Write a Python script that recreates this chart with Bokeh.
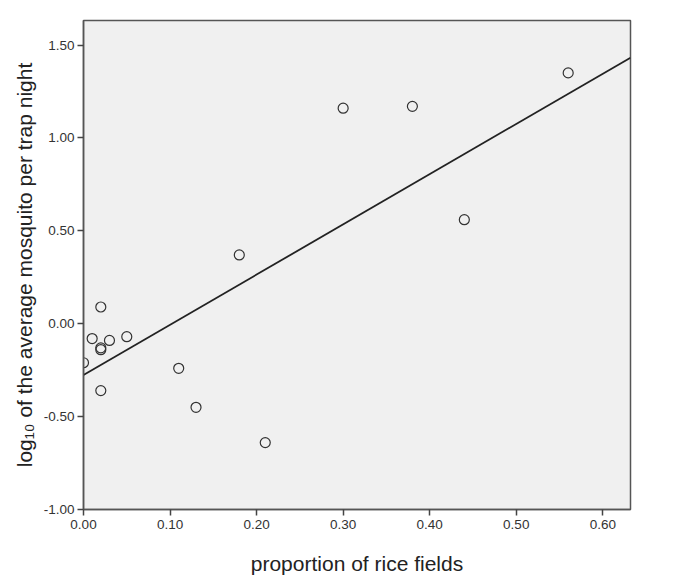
from bokeh.plotting import figure
from bokeh.models import Range1d, NumeralTickFormatter, FixedTicker
from bokeh.embed import file_html
from bokeh.resources import INLINE

# data
rice = [0.02, 0.01, 0.02, 0.02, 0.03, 0.05, 0.00, 0.02, 0.11, 0.13, 0.21, 0.18, 0.30, 0.38, 0.44, 0.56]
logmosq = [0.09, -0.08, -0.13, -0.14, -0.09, -0.07, -0.21, -0.36, -0.24, -0.45, -0.64, 0.37, 1.16, 1.17, 0.56, 1.35]
fit_x = [0.0, 0.632]
fit_y = [-0.276, 1.432]
x_ticks = [0.0, 0.1, 0.2, 0.3, 0.4, 0.5, 0.6]
y_ticks = [-1.0, -0.5, 0.0, 0.5, 1.0, 1.5]

p = figure(width=673, height=578, output_backend="svg", toolbar_location=None,
           x_range=Range1d(0, 0.632), y_range=Range1d(-1.0, 1.632),
           min_border_left=83, min_border_right=43, min_border_top=20, min_border_bottom=69)

p.background_fill_color = "#f0f0f0"
p.border_fill_color = "white"
p.outline_line_color = "#555555"
p.outline_line_width = 1.5
p.grid.visible = False

p.line(fit_x, fit_y, line_color="#222222", line_width=1.8)
p.scatter(rice, logmosq, marker="circle", size=10, fill_color=None,
          line_color="#333333", line_width=1.2)

for ax in (p.xaxis[0], p.yaxis[0]):
    ax.formatter = NumeralTickFormatter(format="0.00")
    ax.major_tick_in = 0
    ax.major_tick_out = 6
    ax.major_tick_line_color = "#444444"
    ax.major_tick_line_width = 1.5
    ax.minor_tick_line_color = None
    ax.axis_line_color = "#555555"
    ax.axis_line_width = 1.5
    ax.major_label_text_font = "Liberation Sans"
    ax.major_label_text_font_size = "13.5px"
    ax.major_label_text_color = "#333333"
    ax.axis_label_text_font = "Liberation Sans"
    ax.axis_label_text_font_size = "21px"
    ax.axis_label_text_font_style = "normal"
    ax.axis_label_text_color = "#222222"

p.xaxis[0].ticker = FixedTicker(ticks=x_ticks)
p.yaxis[0].ticker = FixedTicker(ticks=y_ticks)
p.xaxis[0].axis_label = "proportion of rice fields"
p.yaxis[0].axis_label = "log\u2081\u2080 of the average mosquito per trap night"
p.xaxis[0].major_label_standoff = 4
p.yaxis[0].major_label_standoff = 3
p.xaxis[0].axis_label_standoff = 20
p.yaxis[0].axis_label_standoff = 5

open("out.html", "w").write(file_html(p, INLINE))
